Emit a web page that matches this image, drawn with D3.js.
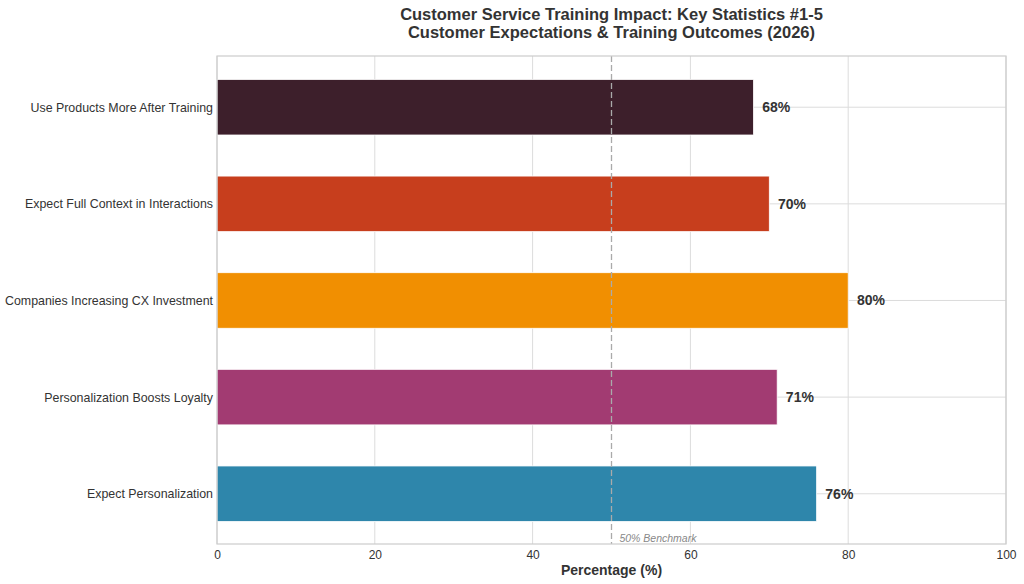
<!DOCTYPE html>
<html>
<head>
<meta charset="utf-8">
<script src="https://cdn.jsdelivr.net/npm/d3@7"></script>
<style>
	body { margin: 0; background: #fff; }
	text { font-family: "Liberation Sans", Arial, sans-serif; }
</style>
</head>
<body>
<div id="main-view"></div>
<script>
// data, top row first
var categories = [
	"Use Products More After Training",
	"Expect Full Context in Interactions",
	"Companies Increasing CX Investment",
	"Personalization Boosts Loyalty",
	"Expect Personalization"
];
var values = [68, 70, 80, 71, 76];
var barColors = ["#3D1F2B", "#C73E1D", "#F18F01", "#A23B72", "#2E86AB"];
var xTicks = [0, 20, 40, 60, 80, 100];
var benchmark = 50;

var width = 1024,
	height = 584;
var margin = { left: 217, right: 18, top: 56, bottom: 40 };

var svg = d3.select("#main-view").append("svg")
	.attr("width", width)
	.attr("height", height);

var x = d3.scaleLinear()
	.domain([0, 100])
	.range([margin.left, width - margin.right]);

var y = d3.scaleLinear()
	.domain([-0.53, categories.length - 1 + 0.52])
	.range([margin.top, height - margin.bottom]);

var barH = 0.575 * (y(1) - y(0));

// grid
svg.append("g").selectAll("line")
	.data(xTicks)
	.enter().append("line")
	.attr("x1", function(d) { return x(d); })
	.attr("x2", function(d) { return x(d); })
	.attr("y1", margin.top)
	.attr("y2", height - margin.bottom)
	.attr("stroke", "#dcdcdc")
	.attr("stroke-width", 1);

svg.append("g").selectAll("line")
	.data(categories)
	.enter().append("line")
	.attr("x1", margin.left)
	.attr("x2", width - margin.right)
	.attr("y1", function(d, i) { return y(i); })
	.attr("y2", function(d, i) { return y(i); })
	.attr("stroke", "#dcdcdc")
	.attr("stroke-width", 1);

// bars
svg.append("g").selectAll("rect")
	.data(values)
	.enter().append("rect")
	.attr("x", x(0))
	.attr("y", function(d, i) { return y(i) - barH / 2; })
	.attr("width", function(d) { return x(d) - x(0); })
	.attr("height", barH)
	.attr("fill", function(d, i) { return barColors[i]; })
	.attr("stroke", "#fff")
	.attr("stroke-width", 0.8);

// value labels
svg.append("g").selectAll("text")
	.data(values)
	.enter().append("text")
	.attr("x", function(d) { return x(d + 1.1); })
	.attr("y", function(d, i) { return y(i); })
	.attr("dy", "0.35em")
	.attr("font-size", 14)
	.attr("font-weight", "bold")
	.attr("fill", "#333")
	.text(function(d) { return d + "%"; });

// benchmark line
svg.append("line")
	.attr("x1", x(benchmark))
	.attr("x2", x(benchmark))
	.attr("y1", margin.top)
	.attr("y2", height - margin.bottom)
	.attr("stroke", "#aaaaaa")
	.attr("stroke-width", 1.3)
	.attr("stroke-dasharray", "6,3");

svg.append("text")
	.attr("x", x(benchmark + 1))
	.attr("y", height - margin.bottom - 2)
	.attr("font-size", 10.5)
	.attr("font-style", "italic")
	.attr("fill", "#888")
	.text("50% Benchmark");

// frame
svg.append("rect")
	.attr("x", margin.left)
	.attr("y", margin.top)
	.attr("width", width - margin.right - margin.left)
	.attr("height", height - margin.bottom - margin.top)
	.attr("fill", "none")
	.attr("stroke", "#cccccc")
	.attr("stroke-width", 1.2);

// axes
var xAxis = svg.append("g")
	.attr("transform", "translate(0," + (height - margin.bottom) + ")")
	.call(d3.axisBottom(x).tickValues(xTicks).tickSize(0).tickPadding(6));
xAxis.select(".domain").remove();
xAxis.selectAll("text")
	.attr("font-size", 12)
	.attr("fill", "#333")
	.style("font-family", "Liberation Sans, Arial, sans-serif");

var yAxis = svg.append("g")
	.attr("transform", "translate(" + margin.left + ",0)")
	.call(d3.axisLeft(y)
		.tickValues(d3.range(categories.length))
		.tickFormat(function(i) { return categories[i]; })
		.tickSize(0)
		.tickPadding(4));
yAxis.select(".domain").remove();
yAxis.selectAll("text")
	.attr("font-size", 12.4)
	.attr("fill", "#333")
	.style("font-family", "Liberation Sans, Arial, sans-serif");

svg.append("text")
	.attr("x", (x(0) + x(100)) / 2)
	.attr("y", 575)
	.attr("text-anchor", "middle")
	.attr("font-size", 14)
	.attr("font-weight", "bold")
	.attr("fill", "#333")
	.text("Percentage (%)");

// title
var title = svg.append("text")
	.attr("x", (x(0) + x(100)) / 2)
	.attr("text-anchor", "middle")
	.attr("font-size", 16.5)
	.attr("font-weight", "bold")
	.attr("fill", "#333");
title.append("tspan")
	.attr("x", (x(0) + x(100)) / 2)
	.attr("y", 20)
	.text("Customer Service Training Impact: Key Statistics #1-5");
title.append("tspan")
	.attr("x", (x(0) + x(100)) / 2)
	.attr("y", 38)
	.text("Customer Expectations & Training Outcomes (2026)");
</script>
</body>
</html>
